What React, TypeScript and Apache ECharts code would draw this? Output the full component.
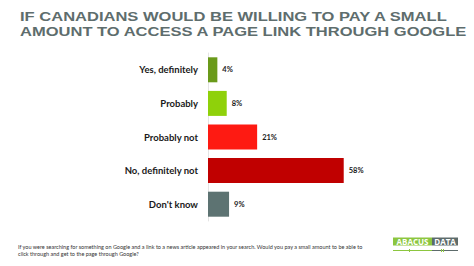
import React, { useEffect, useRef } from "react";
import * as echarts from "echarts";

const categories = ["Yes, definitely", "Probably", "Probably not", "No, definitely not", "Don't know"];
const values = [4, 8, 21, 58, 9];
const barColors = ["#6a9a1a", "#8fd10a", "#fe1a12", "#c00000", "#5d7372"];
const titleLines = [
  "IF CANADIANS WOULD BE WILLING TO PAY A SMALL",
  "AMOUNT TO ACCESS A PAGE LINK THROUGH GOOGLE",
];
const footnoteLines = [
  "If you were searching for something on Google and a link to a news article appeared in your search. Would you pay a small amount to be able to",
  "click through and get to the page through Google?",
];

export default function App() {
  const ref = useRef<HTMLDivElement>(null);
  useEffect(() => {
    if (!ref.current) return;
    const chart = echarts.init(ref.current, null, { renderer: "svg" });
    chart.setOption({
      animation: false,
      backgroundColor: "#ffffff",
      grid: { left: 208, width: 234, top: 53, height: 168 },
      xAxis: {
        type: "value",
        min: 0,
        max: 100,
        show: false,
      },
      yAxis: {
        type: "category",
        data: categories,
        inverse: true,
        axisLine: { show: true, lineStyle: { color: "#e4e4e4", width: 1 } },
        axisTick: { show: false },
        axisLabel: {
          margin: 10,
          color: "#1a1a1a",
          fontFamily: "Lato",
          fontWeight: "bold",
          fontSize: 9.5,
        },
      },
      series: [
        {
          type: "bar",
          barWidth: 25,
          data: values.map((v, i) => ({ value: v, itemStyle: { color: barColors[i] } })),
          label: {
            show: true,
            position: "right",
            distance: 5,
            formatter: "{c}%",
            color: "#1a1a1a",
            fontFamily: "Lato",
            fontWeight: "bold",
            fontSize: 7.5,
          },
        },
      ],
      graphic: [
        {
          type: "text",
          x: 20,
          y: 16.3,
          scaleX: 1.225,
          style: {
            text: titleLines[0],
            fill: "#5e6d6d",
            font: "bold 13.5px 'Liberation Sans'",
            lineHeight: 14,
            verticalAlign: "middle",
          },
        },
        {
          type: "text",
          x: 20,
          y: 31.3,
          scaleX: 1.225,
          style: {
            text: titleLines[1],
            fill: "#5e6d6d",
            font: "bold 13.5px 'Liberation Sans'",
            lineHeight: 14,
            verticalAlign: "middle",
          },
        },
        {
          type: "text",
          left: 18,
          top: 243,
          style: {
            text: footnoteLines.join("\n"),
            fill: "#333333",
            font: "5.5px Lato",
            lineHeight: 7,
          },
        },
        { type: "rect", shape: { x: 393, y: 237.5, width: 39, height: 8 }, style: { fill: "#8cc63f" } },
        { type: "rect", shape: { x: 432, y: 237.5, width: 26, height: 8 }, style: { fill: "#5d6b6b" } },
        {
          type: "text",
          x: 412.5,
          y: 241.7,
          style: { text: "ABACUS", fill: "#ffffff", font: "bold 8px 'Open Sans'", align: "center", verticalAlign: "middle" },
        },
        {
          type: "text",
          x: 445,
          y: 241.7,
          style: { text: "DATA", fill: "#ffffff", font: "bold 8px 'Open Sans'", align: "center", verticalAlign: "middle" },
        },
        { type: "line", shape: { x1: 393, y1: 250.5, x2: 432, y2: 250.5 }, style: { stroke: "#8cc63f", lineWidth: 1 } },
        { type: "line", shape: { x1: 432, y1: 250.5, x2: 458, y2: 250.5 }, style: { stroke: "#5d6b6b", lineWidth: 1 } },
        { type: "rect", shape: { x: 409, y: 249, width: 1, height: 3 }, style: { fill: "#8cc63f" } },
        { type: "rect", shape: { x: 441, y: 249, width: 1, height: 3 }, style: { fill: "#8cc63f" } },
        { type: "rect", shape: { x: 443, y: 249, width: 1, height: 3 }, style: { fill: "#8cc63f" } },
      ],
    });
    return () => chart.dispose();
  }, []);
  return <div ref={ref} style={{ width: 474, height: 266, position: "absolute", left: 0, top: 0 }} />;
}
